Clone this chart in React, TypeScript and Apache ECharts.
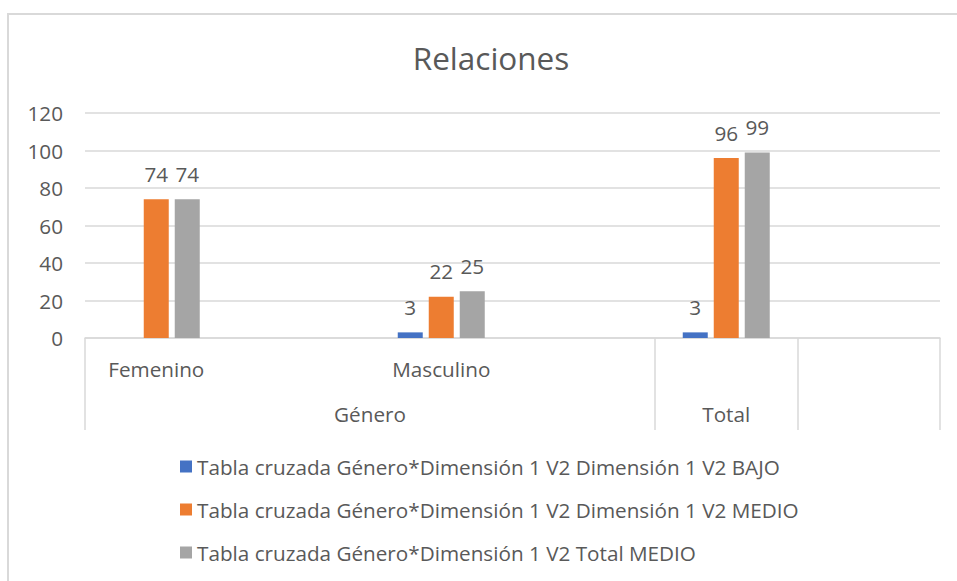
import React, { useEffect, useRef } from "react";
import * as echarts from "echarts";

const titleText = "Relaciones";
const categories = ["Femenino", "", "Masculino", "", "", ""];
const seriesNames = [
  "Tabla cruzada Género*Dimensión 1 V2 Dimensión 1 V2 BAJO",
  "Tabla cruzada Género*Dimensión 1 V2 Dimensión 1 V2 MEDIO",
  "Tabla cruzada Género*Dimensión 1 V2 Total MEDIO",
];
const bajo = [null, null, 3, null, 3, null];
const medio = [74, null, 22, null, 96, null];
const totalMedio = [74, null, 25, null, 99, null];
const seriesColors = ["#4472C4", "#ED7D31", "#A5A5A5"];
const groupLabels: Record<string, string> = { "2": "Género", "4.5": "Total" };
const dividerIndexes = [0, 4, 5];
const yMin = 0;
const yMax = 120;
const yInterval = 20;

const FONT = "'Open Sans', 'Noto Sans', sans-serif";
const TEXT = "#595959";
const LINE = "#D9D9D9";
const FS = 20.7;

export default function App() {
  const ref = useRef<HTMLDivElement>(null);
  useEffect(() => {
    if (!ref.current) return;
    const chart = echarts.init(ref.current, null, { renderer: "svg" });
    const values = [bajo, medio, totalMedio];
    chart.setOption({
      animation: false,
      backgroundColor: "#ffffff",
      textStyle: { fontFamily: FONT },
      title: {
        text: titleText,
        left: 486,
        top: 36,
        textAlign: "center",
        textStyle: { fontFamily: FONT, fontSize: 31.5, fontWeight: "normal", color: TEXT },
      },
      graphic: [
        {
          type: "rect",
          shape: { x: 8, y: 14, width: 1200, height: 1000 },
          style: { fill: "none", stroke: LINE, lineWidth: 2 },
          silent: true,
        },
      ],
      legend: {
        orient: "vertical",
        left: 175,
        top: 451,
        icon: "rect",
        itemWidth: 12,
        itemHeight: 12,
        itemGap: 22,
        textStyle: { fontFamily: FONT, fontSize: FS, color: TEXT },
        data: seriesNames,
      },
      grid: { left: 85, right: 17, top: 113, bottom: 243, containLabel: false },
      xAxis: [
        {
          type: "category",
          data: categories,
          position: "bottom",
          axisLine: { show: true, lineStyle: { color: LINE, width: 1.5 } },
          axisTick: {
            show: true,
            interval: (i: number) => dividerIndexes.includes(i),
            length: 92,
            lineStyle: { color: LINE, width: 1.5 },
          },
          axisLabel: {
            interval: 0,
            margin: 20,
            fontFamily: FONT,
            fontSize: FS,
            color: TEXT,
          },
        },
        {
          type: "value",
          min: 0,
          max: categories.length,
          interval: 0.5,
          position: "bottom",
          offset: 45,
          axisLine: { show: false },
          axisTick: { show: false },
          splitLine: { show: false },
          axisLabel: {
            margin: 20,
            fontFamily: FONT,
            fontSize: FS,
            color: TEXT,
            formatter: (v: number) => groupLabels[String(v)] ?? "",
          },
        },
      ],
      yAxis: {
        type: "value",
        min: yMin,
        max: yMax,
        interval: yInterval,
        axisLine: { show: false },
        axisTick: { show: false },
        splitLine: { lineStyle: { color: LINE, width: 1.5 } },
        axisLabel: { margin: 22, fontFamily: FONT, fontSize: FS, color: TEXT },
      },
      series: seriesNames.map((name, i) => ({
        name,
        type: "bar",
        xAxisIndex: 0,
        data: values[i],
        barWidth: 25,
        barGap: "24%",
        itemStyle: { color: seriesColors[i] },
        label: {
          show: true,
          position: "top",
          distance: 15,
          fontFamily: FONT,
          fontSize: FS,
          color: TEXT,
        },
      })),
    });
    return () => chart.dispose();
  }, []);
  return (
    <div
      ref={ref}
      style={{ position: "fixed", left: 0, top: 0, width: 957, height: 581 }}
    />
  );
}
